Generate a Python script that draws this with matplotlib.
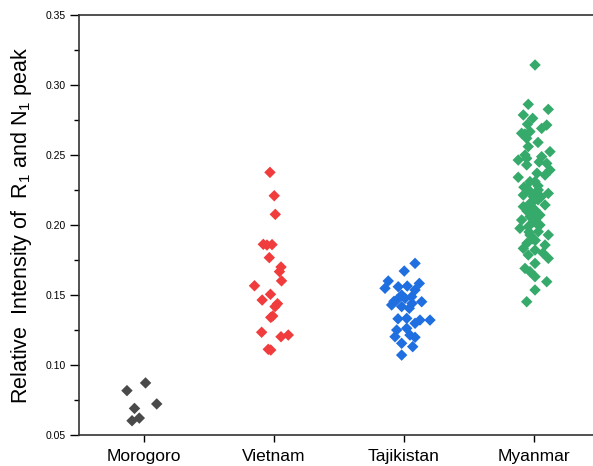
import numpy as np
import matplotlib
matplotlib.use("Agg")
from matplotlib import pyplot as plt
from matplotlib.ticker import MultipleLocator

plt.rcParams['font.family'] = ['Liberation Sans', 'DejaVu Sans']
plt.rcParams['mathtext.default'] = 'regular'

categories = ["Morogoro", "Vietnam", "Tajikistan", "Myanmar"]
colors = ["#4a4a4a", "#f03c3c", "#1f6fe0", "#35aa6a"]

# values, with the horizontal scatter (in category units)
morogoro = [0.0817, 0.0872, 0.0690, 0.0722, 0.0602, 0.0621]
morogoro_dx = [-0.131, 0.012, -0.073, 0.098, -0.092, -0.036]

vietnam = [0.2376, 0.2209, 0.2076, 0.1862, 0.1857, 0.1860, 0.1767, 0.1700,
           0.1667, 0.1601, 0.1566, 0.1505, 0.1464, 0.1438, 0.1417, 0.1350,
           0.1340, 0.1234, 0.1202, 0.1214, 0.1112, 0.1107]
vietnam_dx = [-0.031, 0.002, 0.010, -0.082, -0.054, -0.015, -0.036, 0.054,
              0.042, 0.058, -0.150, -0.027, -0.091, 0.027, 0.008, -0.010,
              -0.025, -0.095, 0.054, 0.110, -0.044, -0.025]

tajikistan = [0.1726, 0.1671, 0.1600, 0.1548, 0.1559, 0.1564, 0.1583, 0.1536,
              0.1500, 0.1464, 0.1476, 0.1488, 0.1452, 0.1429, 0.1417, 0.1405,
              0.1333, 0.1321, 0.1321, 0.1298, 0.1250, 0.1262, 0.1202, 0.1214,
              0.1198, 0.1155, 0.1131, 0.1071, 0.1455, 0.1440, 0.1330]
tajikistan_dx = [0.085, 0.002, -0.121, -0.146, -0.044, 0.025, 0.118, 0.085,
                 -0.018, -0.056, 0.008, 0.059, 0.136, -0.095, -0.018, 0.041,
                 0.021, 0.123, 0.200, 0.085, -0.056, 0.021, -0.069, 0.046,
                 0.085, -0.018, 0.067, -0.018, -0.077, 0.062, -0.046]

myanmar = [0.3143, 0.2862, 0.2826, 0.2786, 0.2762, 0.2690, 0.2714, 0.2655,
           0.2667, 0.2619, 0.2560, 0.2524, 0.2488, 0.2464, 0.2476, 0.2440,
           0.2429, 0.2393, 0.2357, 0.2341, 0.2310, 0.2310, 0.2262, 0.2250,
           0.2226, 0.2214, 0.2202, 0.2155, 0.2143, 0.2131, 0.2107, 0.2060,
           0.2071, 0.2036, 0.2024, 0.1988, 0.1976, 0.1952, 0.1929, 0.1929,
           0.1857, 0.1833, 0.1821, 0.1786, 0.1762, 0.1726, 0.1690, 0.1667,
           0.1631, 0.1595, 0.1536, 0.1452, 0.2240, 0.2180, 0.2100, 0.2000,
           0.1900, 0.1870, 0.2280, 0.2500, 0.2590, 0.1800, 0.2120, 0.2050,
           0.1950, 0.2200, 0.2270, 0.2370, 0.2080, 0.2160, 0.2230, 0.2010,
           0.1890, 0.2650, 0.2720, 0.2450]
myanmar_dx = [0.008, -0.044, 0.110, -0.082, -0.010, 0.059, 0.098, -0.095,
              -0.031, -0.056, -0.044, 0.123, 0.059, -0.121, -0.056, 0.098,
              -0.056, 0.123, 0.085, -0.121, -0.031, 0.008, -0.056, 0.033,
              0.110, -0.082, -0.005, -0.031, 0.085, -0.082, 0.008, -0.031,
              0.046, -0.095, -0.005, -0.044, -0.108, 0.033, -0.031, 0.110,
              0.085, -0.082, 0.008, -0.044, 0.110, 0.008, -0.069, -0.031,
              0.008, 0.098, 0.008, -0.056, -0.031, 0.031, -0.054, 0.046,
              -0.008, -0.054, 0.031, -0.069, 0.031, 0.069, -0.015, 0.015,
              -0.038, 0.054, -0.077, 0.023, 0.000, -0.015, 0.012, 0.020,
              0.010, -0.070, -0.050, 0.040]

groups = [(morogoro, morogoro_dx), (vietnam, vietnam_dx),
          (tajikistan, tajikistan_dx), (myanmar, myanmar_dx)]

fig = plt.figure(figsize=(5.93, 4.66), dpi=100)
ax = fig.add_axes([0.1332, 0.0665, 0.8769, 0.9013])

for i, (vals, dx) in enumerate(groups):
    x = i + 1 + np.array(dx)
    ax.scatter(x, vals, marker='D', s=34, color=colors[i], edgecolors='none', zorder=3)

ax.set_xlim(0.5, 4.5)
ax.set_ylim(0.05, 0.35)
ax.set_xticks(range(1, 5))
ax.set_xticklabels(categories, fontsize=12.5)
ax.yaxis.set_major_locator(MultipleLocator(0.05))
ax.yaxis.set_minor_locator(MultipleLocator(0.025))
ax.set_yticklabels(["%.2f" % v for v in ax.get_yticks()], fontsize=7.5)
ax.tick_params(axis='y', which='major', direction='out', length=6.5, width=1, pad=3)
ax.tick_params(axis='y', which='minor', direction='out', length=3.5, width=1)
ax.tick_params(axis='x', which='major', direction='out', length=5, width=1, pad=5)

ax.set_ylabel(r"Relative  Intensity of  R$_1$ and N$_1$ peak", fontsize=15.5, labelpad=8)

for side in ['left', 'bottom', 'top']:
    ax.spines[side].set_linewidth(1.2)
    ax.spines[side].set_color('#333333')
ax.spines['right'].set_visible(False)

fig.savefig("out.png", dpi=100)
